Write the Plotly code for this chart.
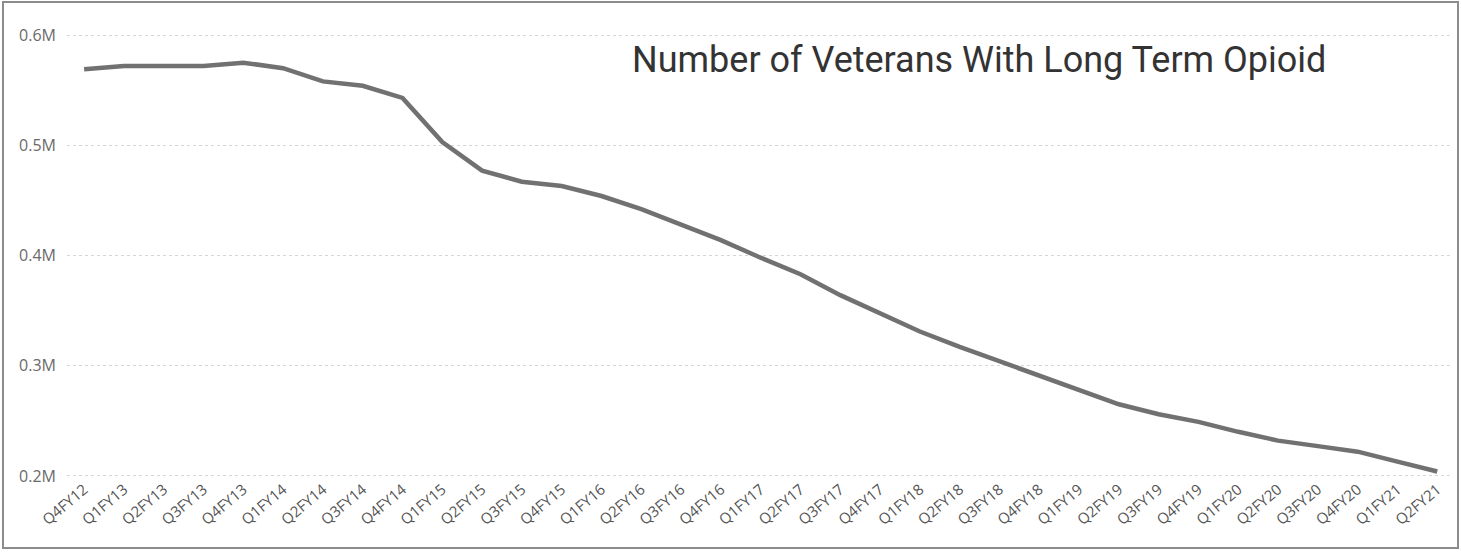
import plotly.graph_objects as go

quarters = ["Q4FY12", "Q1FY13", "Q2FY13", "Q3FY13", "Q4FY13", "Q1FY14", "Q2FY14", "Q3FY14",
            "Q4FY14", "Q1FY15", "Q2FY15", "Q3FY15", "Q4FY15", "Q1FY16", "Q2FY16", "Q3FY16",
            "Q4FY16", "Q1FY17", "Q2FY17", "Q3FY17", "Q4FY17", "Q1FY18", "Q2FY18", "Q3FY18",
            "Q4FY18", "Q1FY19", "Q2FY19", "Q3FY19", "Q4FY19", "Q1FY20", "Q2FY20", "Q3FY20",
            "Q4FY20", "Q1FY21", "Q2FY21"]

veterans = [569000, 572000, 572000, 572000, 575000, 570000, 558000, 554000,
            543000, 503000, 477000, 467000, 463000, 454000, 442000, 428000,
            414000, 398000, 383000, 364000, 347000, 331000, 317000, 304000,
            291000, 277000, 265000, 256000, 249000, 240000, 232000, 227000,
            222000, 213000, 204000]

y_ticks = [200000, 300000, 400000, 500000, 600000]
y_tick_labels = ["0.2M", "0.3M", "0.4M", "0.5M", "0.6M"]

title_text = "Number of Veterans With Long Term Opioid"

W, H = 1461, 555
ML, MR, MT, MB = 67, 11, 34, 78
PW, PH = W - ML - MR, H - MT - MB


def px_x(p):
    return (p - ML) / PW


def px_y(p):
    return (H - MB - p) / PH


fig = go.Figure()
fig.add_trace(go.Scatter(
    x=quarters, y=veterans, mode="lines",
    line=dict(color="#717171", width=4.5),
    hoverinfo="x+y", showlegend=False,
))

fig.update_layout(
    width=W, height=H,
    margin=dict(l=ML, r=MR, t=MT, b=MB),
    paper_bgcolor="white", plot_bgcolor="white",
    font=dict(family="Open Sans, Segoe UI, sans-serif", color="#666666"),
    xaxis=dict(
        type="category", range=[-0.43, 34.32],
        showgrid=False, showline=False, zeroline=False, ticks="",
        tickangle=-40, tickfont=dict(size=15, color="#555555"),
    ),
    yaxis=dict(
        range=[199000, 601000],
        tickvals=y_ticks, ticktext=y_tick_labels,
        showgrid=True, gridcolor="#d6d6d6", griddash="dot", gridwidth=1,
        showline=False, zeroline=False, ticks="",
        tickfont=dict(size=16, color="#6a6a6a"),
        ticklabelstandoff=10,
    ),
    shapes=[
        dict(type="rect", xref="paper", yref="y",
             x0=px_x(505), x1=1.0, y0=590000, y1=612000,
             fillcolor="white", line=dict(width=0), layer="between"),
        dict(type="rect", xref="paper", yref="paper",
             x0=px_x(3), x1=px_x(1458), y0=px_y(548), y1=px_y(2),
             line=dict(color="#8c8c8c", width=2), fillcolor="rgba(0,0,0,0)",
             layer="above"),
    ],
    annotations=[
        dict(text=title_text, xref="paper", yref="paper",
             x=px_x(979), y=px_y(60), xanchor="center", yanchor="middle",
             showarrow=False,
             font=dict(family="Roboto, sans-serif", size=36, color="#333333")),
    ],
)

fig.write_html("out.html")
